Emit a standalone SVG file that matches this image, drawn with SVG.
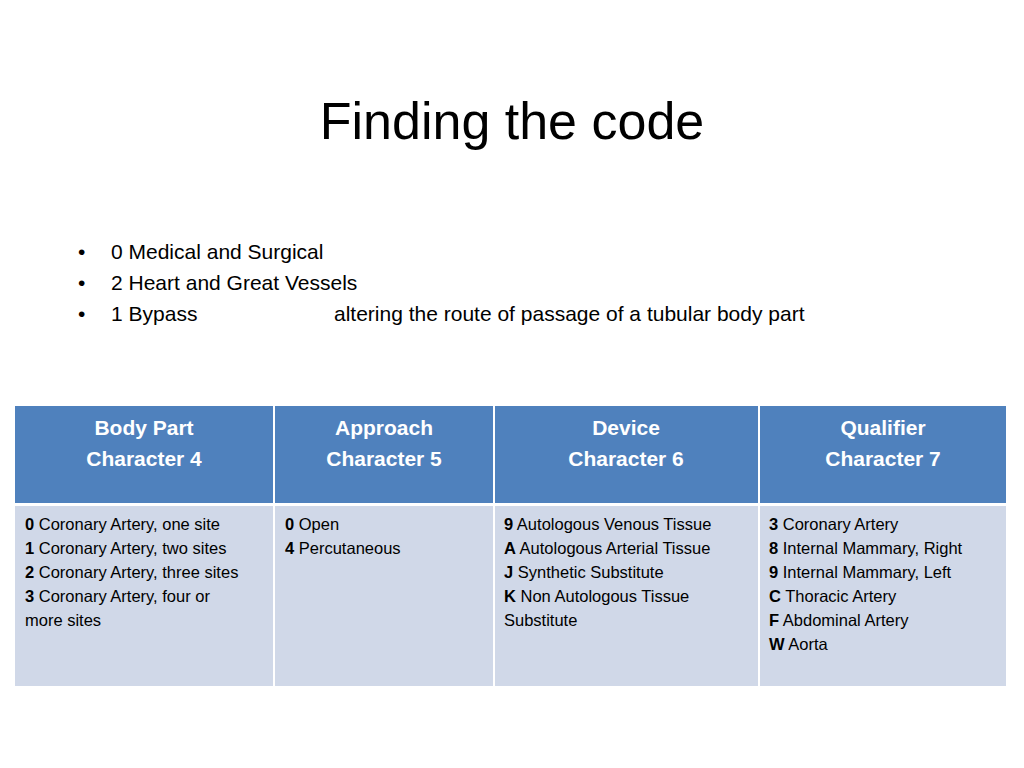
<svg xmlns="http://www.w3.org/2000/svg" width="1024" height="768" viewBox="0 0 1024 768">
<style>
text{font-family:"Liberation Sans","Open Sans",sans-serif;fill:#000}
.t{font-size:52px}
.b{font-size:21px}
.h{font-size:21px;font-weight:bold;fill:#fff;text-anchor:middle}
.c{font-size:16.5px}
.hd{fill:#4F81BD}
.bd{fill:#D0D8E8}
</style>
<rect width="1024" height="768" fill="#fff"/>
<text class="t" x="512" y="139" text-anchor="middle">Finding the code</text>
<g id="bullets">
<text class="b" x="78" y="259">•</text><text class="b" x="111" y="259">0 Medical and Surgical</text>
<text class="b" x="78" y="290">•</text><text class="b" x="111" y="290">2 Heart and Great Vessels</text>
<text class="b" x="78" y="321">•</text><text class="b" x="111" y="321">1 Bypass</text>
<text class="b" x="334" y="321">altering the route of passage of a tubular body part</text>
</g>
<g id="table">
<rect class="hd" x="15" y="406" width="258" height="97"/>
<rect class="hd" x="275" y="406" width="218" height="97"/>
<rect class="hd" x="495" y="406" width="263" height="97"/>
<rect class="hd" x="760" y="406" width="246" height="97"/>
<rect class="bd" x="15" y="506" width="258" height="180"/>
<rect class="bd" x="275" y="506" width="218" height="180"/>
<rect class="bd" x="495" y="506" width="263" height="180"/>
<rect class="bd" x="760" y="506" width="246" height="180"/>
<text class="h" x="144" y="435">Body Part</text><text class="h" x="144" y="466">Character 4</text>
<text class="h" x="384" y="435">Approach</text><text class="h" x="384" y="466">Character 5</text>
<text class="h" x="626" y="435">Device</text><text class="h" x="626" y="466">Character 6</text>
<text class="h" x="883" y="435">Qualifier</text><text class="h" x="883" y="466">Character 7</text>
<g class="c">
<text class="c" x="25" y="530"><tspan font-weight="bold">0</tspan> Coronary Artery, one site</text>
<text class="c" x="25" y="554"><tspan font-weight="bold">1</tspan> Coronary Artery, two sites</text>
<text class="c" x="25" y="578"><tspan font-weight="bold">2</tspan> Coronary Artery, three sites</text>
<text class="c" x="25" y="602"><tspan font-weight="bold">3</tspan> Coronary Artery, four or</text>
<text class="c" x="25" y="626">more sites</text>
<text class="c" x="285" y="530"><tspan font-weight="bold">0</tspan> Open</text>
<text class="c" x="285" y="554"><tspan font-weight="bold">4</tspan> Percutaneous</text>
<text class="c" x="504" y="530"><tspan font-weight="bold">9</tspan> Autologous Venous Tissue</text>
<text class="c" x="504" y="554"><tspan font-weight="bold">A</tspan> Autologous Arterial Tissue</text>
<text class="c" x="504" y="578"><tspan font-weight="bold">J</tspan> Synthetic Substitute</text>
<text class="c" x="504" y="602"><tspan font-weight="bold">K</tspan> Non Autologous Tissue</text>
<text class="c" x="504" y="626">Substitute</text>
<text class="c" x="769" y="530"><tspan font-weight="bold">3</tspan> Coronary Artery</text>
<text class="c" x="769" y="554"><tspan font-weight="bold">8</tspan> Internal Mammary, Right</text>
<text class="c" x="769" y="578"><tspan font-weight="bold">9</tspan> Internal Mammary, Left</text>
<text class="c" x="769" y="602"><tspan font-weight="bold">C</tspan> Thoracic Artery</text>
<text class="c" x="769" y="626"><tspan font-weight="bold">F</tspan> Abdominal Artery</text>
<text class="c" x="769" y="650"><tspan font-weight="bold">W</tspan> Aorta</text>
</g>
</g>
</svg>
